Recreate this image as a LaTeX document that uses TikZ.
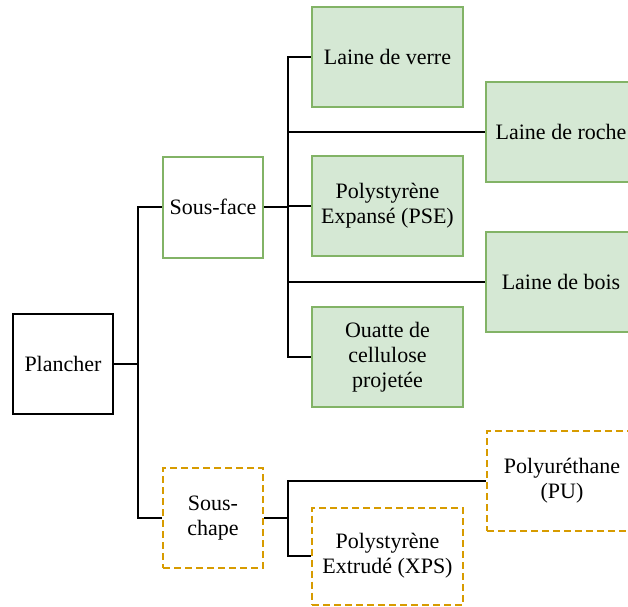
\documentclass[tikz,border=0pt]{standalone}
\usepackage{fontspec}
\setmainfont{Liberation Serif}
\definecolor{gfill}{HTML}{D5E8D4}
\definecolor{gline}{HTML}{82B366}
\definecolor{oline}{HTML}{D79B00}
\begin{document}
\begin{tikzpicture}[x=1pt,y=-1pt,
  font=\fontsize{22}{25}\selectfont,
  base/.style={rectangle, align=center, inner sep=0pt, line width=2pt},
  blackbox/.style={base, draw=black, fill=white, minimum width=100pt, minimum height=100pt},
  greenwhite/.style={base, draw=gline, fill=white, minimum width=100pt, minimum height=101pt},
  greenbox/.style={base, draw=gline, fill=gfill, minimum width=151pt, minimum height=100pt},
  orangebox/.style={base, draw=oline, fill=white, dash pattern=on 7pt off 4pt, minimum height=100pt},
  conn/.style={draw=black, line width=2.4pt}]
\useasboundingbox (0,0) rectangle (628,606);
\clip (0,0) rectangle (628,606);
\node[blackbox] (plancher) at (63,364) {Plancher};
\node[greenwhite] (sousface) at (213,207) {Sous-face};
\node[orangebox, minimum width=100pt] (souschape) at (213,518) {Sous-\\chape};
\node[greenbox] (verre) at (387.5,57) {Laine de verre};
\node[greenbox, minimum width=150pt] (roche) at (561,132) {Laine de roche};
\node[greenbox] (pse) at (387.5,206) {Polystyrène\\Expansé (PSE)};
\node[greenbox, minimum width=150pt] (bois) at (561,282) {Laine de bois};
\node[greenbox] (ouatte) at (387.5,357) {Ouatte de\\cellulose\\projetée};
\node[orangebox, minimum width=150pt] (pu) at (562,481) {Polyuréthane\\(PU)};
\node[orangebox, minimum width=151pt, minimum height=97pt] (xps) at (387.5,556) {Polystyrène\\Extrudé (XPS)};
\draw[conn] (plancher.east) -- ++(24,0) |- (sousface.west);
\draw[conn] (plancher.east) -- ++(24,0) |- (souschape.west);
\draw[conn] (sousface.east) -- ++(24,0) |- (verre.west);
\draw[conn] (sousface.east) -- ++(24,0) |- (roche.west);
\draw[conn] (sousface.east) -- ++(24,0) |- (pse.west);
\draw[conn] (sousface.east) -- ++(24,0) |- (bois.west);
\draw[conn] (sousface.east) -- ++(24,0) |- (ouatte.west);
\draw[conn] (souschape.east) -- ++(24,0) |- (pu.west);
\draw[conn] (souschape.east) -- ++(24,0) |- (xps.west);
\end{tikzpicture}
\end{document}
